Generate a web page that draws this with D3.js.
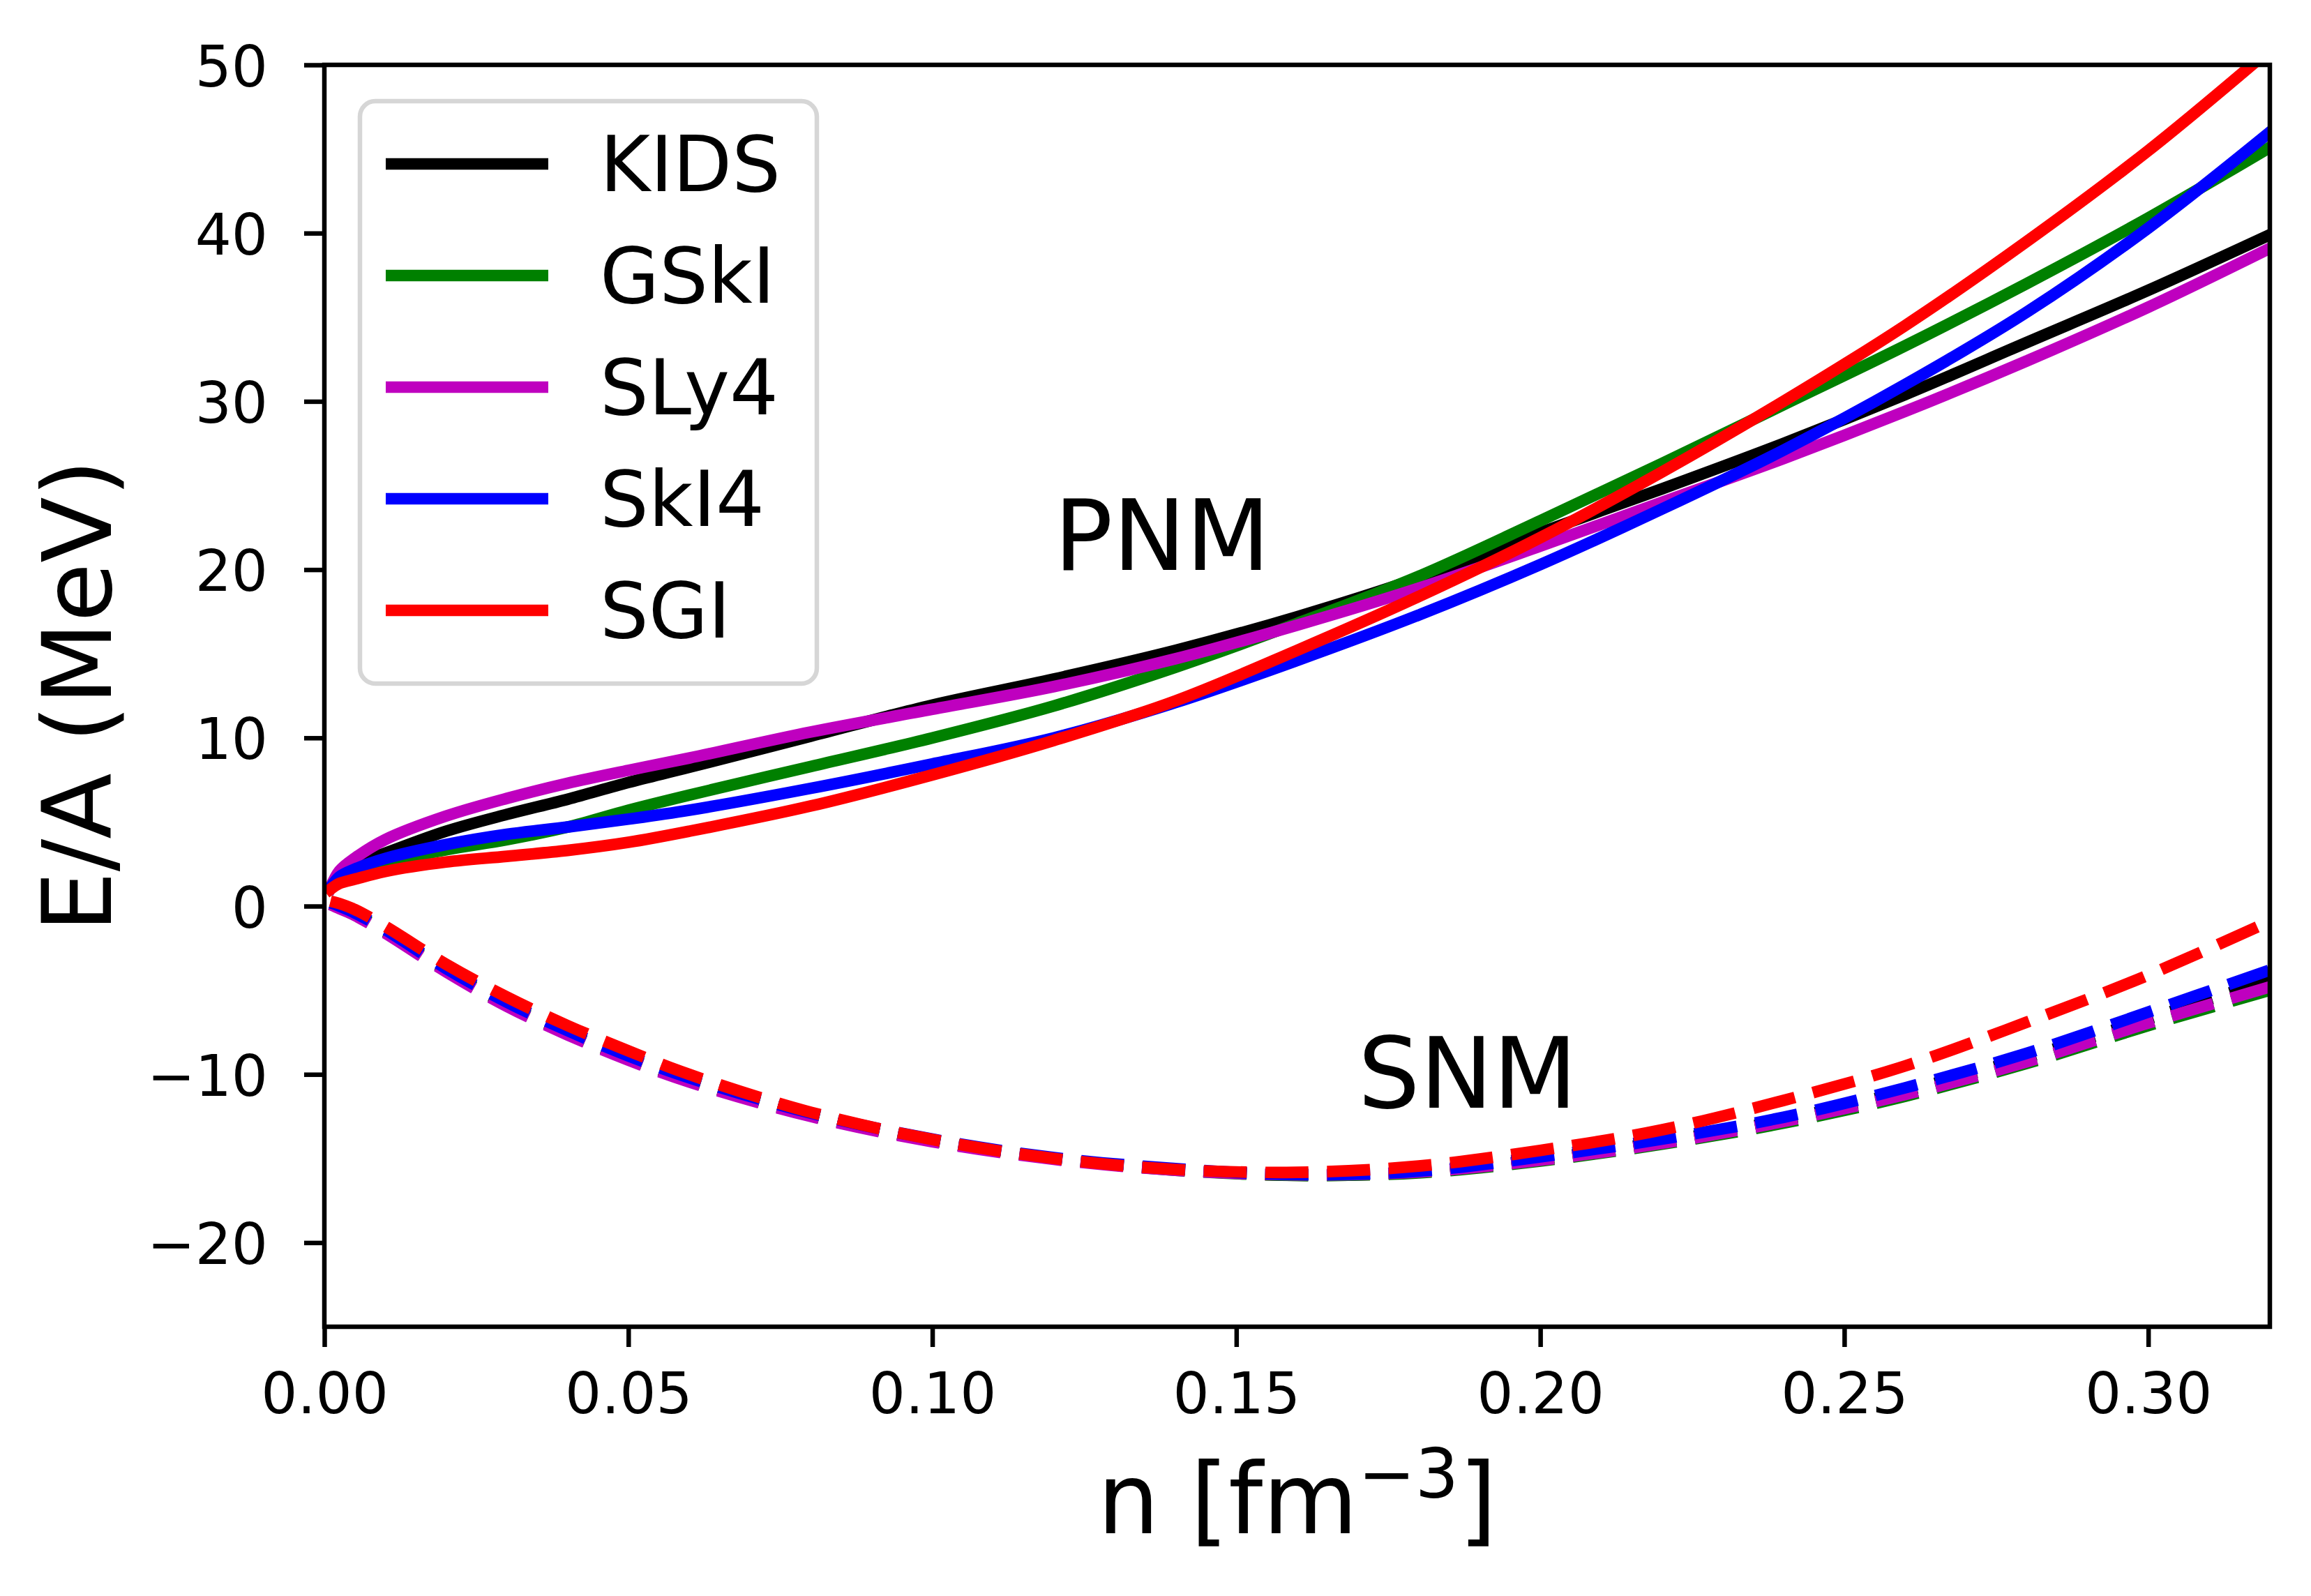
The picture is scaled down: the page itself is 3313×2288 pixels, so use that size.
<!DOCTYPE html>
<html><head><meta charset="utf-8">
<script src="https://cdn.jsdelivr.net/npm/d3@7"></script>
<style>body{margin:0;background:#fff}svg{display:block}text{font-family:"DejaVu Sans";}</style>
</head><body>
<script>
// ---- data ----
const density = [0.001, 0.0025, 0.005, 0.01, 0.02, 0.03, 0.04, 0.05, 0.06, 0.08, 0.10, 0.12, 0.14, 0.16, 0.18, 0.20, 0.22, 0.24, 0.26, 0.28, 0.30, 0.32];
const models = ["KIDS", "GSkI", "SLy4", "SkI4", "SGI"];
const colors = ["#000000", "#008000", "#bf00bf", "#0000ff", "#ff0000"];
// Pure neutron matter E/A (MeV)
const pnmKIDS = [1.1, 1.95, 2.5, 3.15, 4.45, 5.45, 6.35, 7.35, 8.25, 10.1, 11.95, 13.5, 15.2, 17.2, 19.5, 22.2, 24.8, 27.5, 30.4, 33.5, 36.6, 39.9];
const pnmGSkI = [1.1, 1.7, 2.05, 2.6, 3.35, 3.95, 4.7, 5.7, 6.6, 8.3, 10.0, 11.9, 14.2, 16.8, 19.6, 22.9, 26.3, 29.8, 33.3, 37.0, 40.9, 45.1];
const pnmSLy4 = [1.1, 2.1, 2.85, 3.95, 5.35, 6.4, 7.3, 8.07, 8.8, 10.35, 11.7, 13.05, 14.7, 16.7, 18.9, 21.4, 24.0, 26.6, 29.4, 32.4, 35.6, 39.1];
const pnmSkI4 = [1.1, 1.75, 2.2, 2.83, 3.66, 4.27, 4.7, 5.17, 5.7, 7.0, 8.45, 10.0, 12.1, 14.6, 17.3, 20.3, 23.6, 27.1, 31.0, 35.3, 40.3, 46.0];
const pnmSGI  = [1.0, 1.35, 1.6, 2.06, 2.62, 2.96, 3.31, 3.79, 4.45, 5.95, 7.8, 9.85, 12.2, 15.2, 18.4, 21.9, 25.8, 30.0, 34.5, 39.5, 44.9, 50.9];
// Symmetric nuclear matter E/A (MeV)
const snmKIDS = [0.15, -0.05, -0.45, -1.5, -3.8, -5.85, -7.55, -9.05, -10.35, -12.4, -13.95, -15.0, -15.65, -16.0, -15.8, -15.05, -14.0, -12.7, -11.0, -9.0, -6.7, -4.4];
const snmGSkI = [0.1, -0.1, -0.5, -1.55, -3.85, -5.9, -7.6, -9.1, -10.4, -12.45, -13.95, -15.0, -15.7, -16.0, -15.85, -15.15, -14.15, -12.9, -11.3, -9.35, -7.1, -5.0];
const snmSLy4 = [0.1, -0.15, -0.55, -1.6, -3.9, -5.95, -7.65, -9.15, -10.45, -12.5, -14.0, -15.05, -15.7, -15.97, -15.8, -15.1, -14.1, -12.8, -11.2, -9.25, -6.95, -4.8];
const snmSkI4 = [0.2, 0.0, -0.4, -1.4, -3.7, -5.7, -7.4, -8.9, -10.2, -12.3, -13.85, -14.95, -15.6, -15.95, -15.75, -14.9, -13.85, -12.55, -10.8, -8.75, -6.3, -3.8];
const snmSGI  = [0.3, 0.15, -0.2, -1.2, -3.45, -5.4, -7.1, -8.6, -10.0, -12.25, -13.87, -15.0, -15.65, -15.82, -15.45, -14.52, -13.3, -11.55, -9.5, -6.9, -4.1, -0.9];
const pnmSeries = [pnmKIDS, pnmGSkI, pnmSLy4, pnmSkI4, pnmSGI];
const snmSeries = [snmKIDS, snmGSkI, snmSLy4, snmSkI4, snmSGI];
const xTicks = [0, 0.05, 0.10, 0.15, 0.20, 0.25, 0.30];
const yTicks = [-20, -10, 0, 10, 20, 30, 40, 50];

// ---- layout ----
const W = 3313, H = 2288;
const L = 465, R = 3254, T = 93, B = 1902;
const LW = 16.7;
const svg = d3.select("body").append("svg").attr("width", W).attr("height", H);
svg.append("rect").attr("width", W).attr("height", H).attr("fill", "#fff");

const x = d3.scaleLinear().domain([0, 0.32]).range([L, R]);
const y = d3.scaleLinear().domain([-25, 50]).range([B, T]);

svg.append("defs").append("clipPath").attr("id", "clip")
  .append("rect").attr("x", L).attr("y", T).attr("width", R - L).attr("height", B - T);

const line = d3.line().x(d => x(d[0])).y(d => y(d[1])).curve(d3.curveCatmullRom.alpha(0.5));
const plot = svg.append("g").attr("clip-path", "url(#clip)");

models.forEach((m, i) => {
  plot.append("path")
    .attr("d", line(density.map((d, k) => [d, pnmSeries[i][k]])))
    .attr("fill", "none").attr("stroke", colors[i]).attr("stroke-width", LW)
    .attr("stroke-linecap", "square").attr("stroke-linejoin", "round");
});
models.forEach((m, i) => {
  plot.append("path")
    .attr("d", line(density.map((d, k) => [d, snmSeries[i][k]])))
    .attr("fill", "none").attr("stroke", colors[i]).attr("stroke-width", LW)
    .attr("stroke-dasharray", "61.7,26.7").attr("stroke-linecap", "butt").attr("stroke-linejoin", "round");
});

// annotations
plot.append("text").attr("x", x(0.12)).attr("y", y(20)).attr("font-size", 140).text("PNM");
plot.append("text").attr("x", x(0.17)).attr("y", y(-12)).attr("font-size", 140).text("SNM");

// axes
const minus = s => s.replace("-", "\u2212");
const xAxis = svg.append("g").attr("transform", `translate(0,${B})`)
  .call(d3.axisBottom(x).tickValues(xTicks).tickFormat(d3.format(".2f")).tickSize(29).tickSizeOuter(0));
xAxis.select(".domain").remove();
xAxis.selectAll(".tick line").attr("stroke", "#000").attr("stroke-width", 6.5);
xAxis.selectAll(".tick text").attr("y", 124).attr("dy", null).attr("font-size", 82)
  .attr("font-family", "DejaVu Sans").attr("fill", "#000");

const yAxis = svg.append("g").attr("transform", `translate(${L},0)`)
  .call(d3.axisLeft(y).tickValues(yTicks).tickFormat(d => minus(String(d))).tickSize(29).tickSizeOuter(0));
yAxis.select(".domain").remove();
yAxis.selectAll(".tick line").attr("stroke", "#000").attr("stroke-width", 6.5);
yAxis.selectAll(".tick text").attr("x", -81).attr("dy", null).attr("y", 30).attr("font-size", 82)
  .attr("font-family", "DejaVu Sans").attr("fill", "#000").attr("text-anchor", "end");

// spines
svg.append("rect").attr("x", L).attr("y", T).attr("width", R - L).attr("height", B - T)
  .attr("fill", "none").attr("stroke", "#000").attr("stroke-width", 6.5);

// axis labels
const xl = svg.append("text").attr("x", (L + R) / 2).attr("y", 2198).attr("text-anchor", "middle").attr("font-size", 140);
xl.append("tspan").text("n [fm");
xl.append("tspan").attr("dy", -51).attr("font-size", 98).text("\u22123");
xl.append("tspan").attr("dy", 51).text("]");

svg.append("text").attr("transform", `translate(159,${(T + B) / 2}) rotate(-90)`)
  .attr("text-anchor", "middle").attr("font-size", 138).text("E/A (MeV)");

// legend
const lg = svg.append("g");
lg.append("rect").attr("x", 516).attr("y", 145).attr("width", 1171 - 516).attr("height", 980 - 145)
  .attr("rx", 22).attr("fill", "#fff").attr("fill-opacity", 0.8).attr("stroke", "#d6d6d6").attr("stroke-width", 6.5);
models.forEach((m, i) => {
  const ly = 235 + 160 * i;
  lg.append("line").attr("x1", 553).attr("x2", 786).attr("y1", ly).attr("y2", ly)
    .attr("stroke", colors[i]).attr("stroke-width", LW);
  lg.append("text").attr("x", 860).attr("y", ly + 39).attr("font-size", 110).text(m);
});
</script>
</body></html>
